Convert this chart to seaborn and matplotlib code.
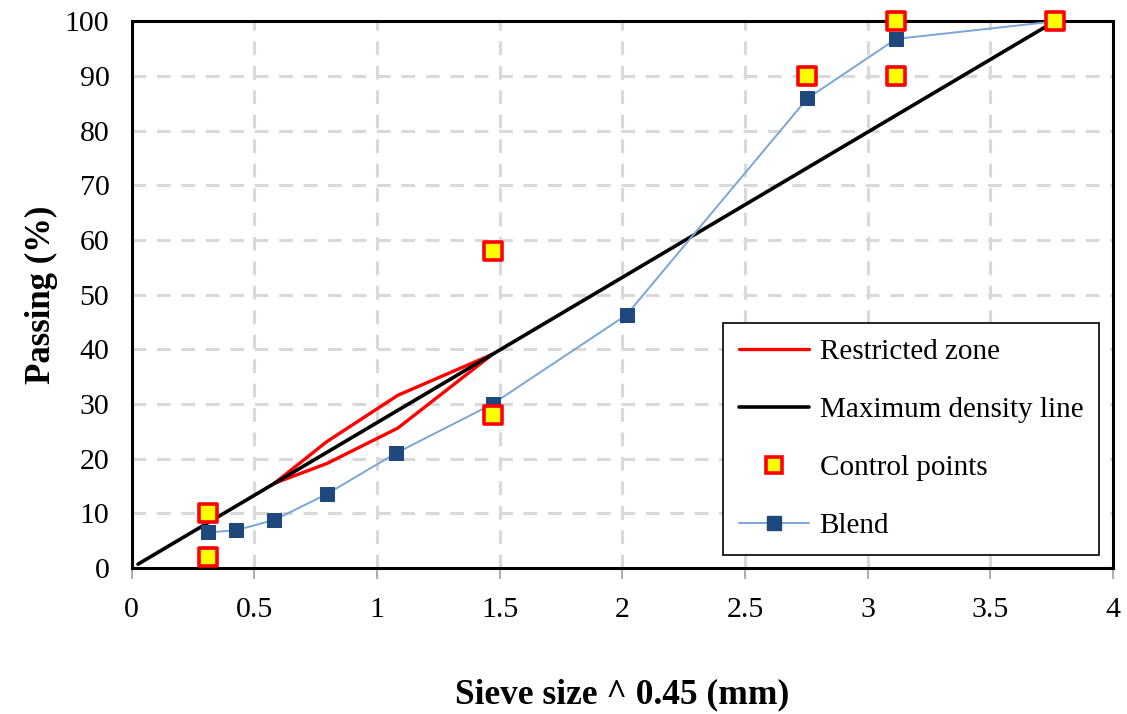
import matplotlib
matplotlib.use("Agg")
import matplotlib.pyplot as plt
from matplotlib.lines import Line2D
import seaborn as sns
import pandas as pd

# Sieve sizes raised to the 0.45 power (mm^0.45)
blend_x = [0.312, 0.426, 0.582, 0.795, 1.077, 1.471, 2.017, 2.754, 3.116, 3.762]
blend_y = [6.5, 6.9, 8.8, 13.5, 21.0, 30.0, 46.3, 85.9, 96.8, 100.0]

control_x = [0.312, 0.312, 1.471, 1.471, 2.754, 3.116, 3.116, 3.762]
control_y = [2.0, 10.0, 28.0, 58.0, 90.0, 90.0, 100.0, 100.0]

# Restricted zone outline (upper then lower boundary, closed)
zone_x = [0.582, 0.795, 1.085, 1.471, 1.085, 0.795, 0.582]
zone_y = [15.5, 23.1, 31.6, 39.1, 25.6, 19.1, 15.5]

mdl_x = [0.026, 3.762]
mdl_y = [0.7, 100.0]

x_ticks = [0, 0.5, 1, 1.5, 2, 2.5, 3, 3.5, 4]
y_ticks = list(range(0, 101, 10))

sns.set_theme(style="white")
plt.rcParams["font.family"] = ["Liberation Serif", "DejaVu Serif"]
plt.rcParams["text.color"] = "black"
plt.rcParams["axes.labelcolor"] = "black"
plt.rcParams["xtick.labelcolor"] = "black"
plt.rcParams["ytick.labelcolor"] = "black"

fig, ax = plt.subplots(figsize=(11.27, 7.14), dpi=100)
fig.subplots_adjust(left=0.1168, right=0.9876, top=0.970, bottom=0.2045)

grid_kw = dict(color="#d9d9d9", lw=2.2, ls=(0, (4.5, 3.5)), zorder=0)
for xv in x_ticks[1:-1]:
    ax.axvline(xv, **grid_kw)
for yv in y_ticks[1:-1]:
    ax.axhline(yv, **grid_kw)

sns.lineplot(x=zone_x, y=zone_y, sort=False, estimator=None, color="#ff0000",
             lw=2.4, ax=ax, zorder=3)
sns.lineplot(x=mdl_x, y=mdl_y, sort=False, estimator=None, color="black",
             lw=2.6, ax=ax, zorder=4)
blend_df = pd.DataFrame({"x": blend_x, "y": blend_y})
sns.lineplot(data=blend_df, x="x", y="y", sort=False, estimator=None,
             color="#7aa6d6", lw=1.4, marker="s", markersize=10,
             markerfacecolor="#1f497d", markeredgecolor="#1f497d", ax=ax, zorder=5)
sns.scatterplot(x=control_x, y=control_y, marker="s", s=150, color="#ffff00",
                edgecolor="#ff0000", linewidth=2.6, ax=ax, zorder=6)
for coll in ax.collections:
    coll.set_clip_on(False)

ax.set_xlim(0, 4)
ax.set_ylim(0, 100)
ax.set_xticks(x_ticks)
ax.set_xticklabels(["0", "0.5", "1", "1.5", "2", "2.5", "3", "3.5", "4"])
ax.set_yticks(y_ticks)
ax.tick_params(axis="x", direction="out", length=8, width=1.2, color="#a0a0a0",
               labelsize=21.5, pad=13, bottom=True, labelcolor="black")
ax.tick_params(axis="y", length=0, labelsize=21.5, pad=16, labelcolor="black")
for sp in ax.spines.values():
    sp.set_color("black")
    sp.set_linewidth(2.2)

ax.set_xlabel("Sieve size ^ 0.45 (mm)", fontsize=25.5, fontweight="bold",
              labelpad=40, color="black")
ax.set_ylabel("Passing (%)", fontsize=25, fontweight="bold", labelpad=5,
              color="black")

handles = [
    Line2D([], [], color="#ff0000", lw=2.4),
    Line2D([], [], color="black", lw=2.6),
    Line2D([], [], ls="none", marker="s", markersize=11, markerfacecolor="#ffff00",
           markeredgecolor="#ff0000", markeredgewidth=2.6),
    Line2D([], [], color="#7aa6d6", lw=1.4, marker="s", markersize=10,
           markerfacecolor="#1f497d", markeredgecolor="#1f497d"),
]
labels = ["Restricted zone", "Maximum density line", "Control points", "Blend"]
leg = ax.legend(handles, labels, loc="lower right", bbox_to_anchor=(0.986, 0.024),
                fontsize=21, frameon=True, fancybox=False, edgecolor="black",
                framealpha=1, handlelength=2.4, handletextpad=0.35,
                labelspacing=1.08, borderpad=0.55, borderaxespad=0)
leg.get_frame().set_linewidth(1.2)
for t in leg.get_texts():
    t.set_color("black")

fig.savefig("out.png", dpi=100)
